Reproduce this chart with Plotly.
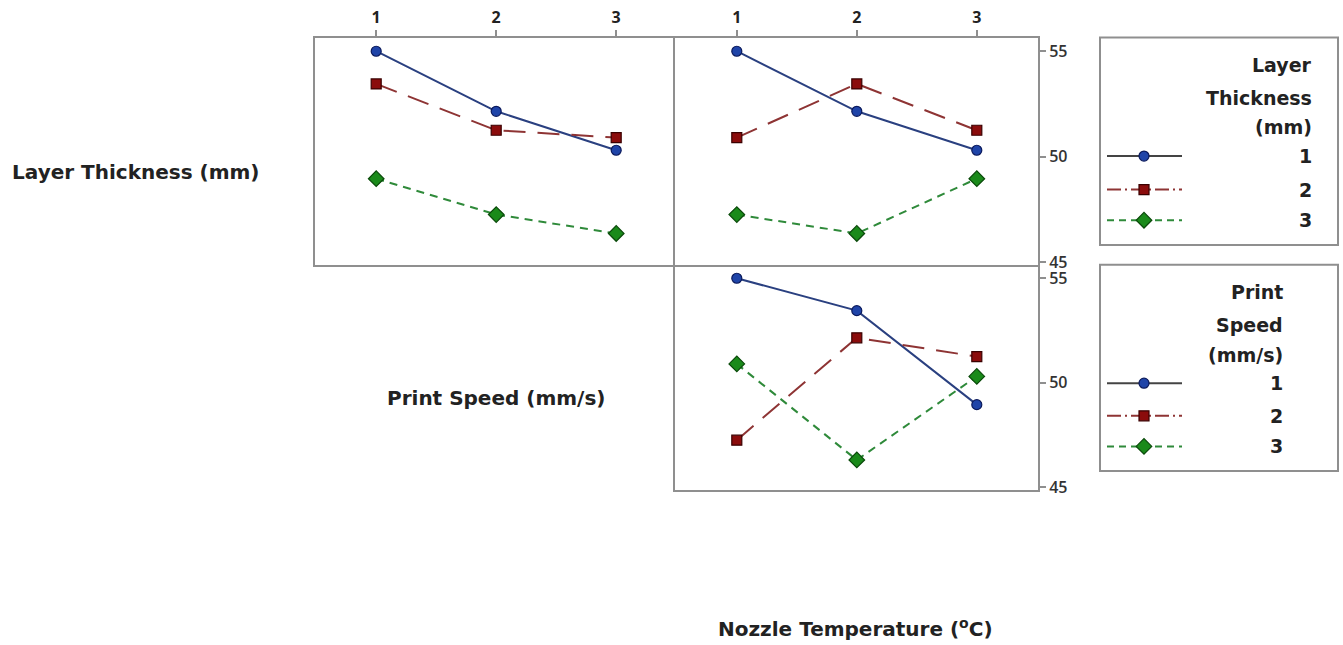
import plotly.graph_objects as go

# ---------------- data ----------------
levels = [1, 2, 3]
level_names = ["1", "2", "3"]

# top-left panel: Layer Thickness lines (x = Print Speed level)
tl_lt1 = [55.0, 52.15, 50.3]
tl_lt2 = [53.45, 51.25, 50.9]
tl_lt3 = [48.95, 47.25, 46.35]

# top-right panel: Layer Thickness lines (x = Nozzle Temperature level)
tr_lt1 = [55.0, 52.15, 50.3]
tr_lt2 = [50.9, 53.45, 51.25]
tr_lt3 = [47.25, 46.35, 48.95]

# bottom panel: Print Speed lines (x = Nozzle Temperature level)
b_ps1 = [55.0, 53.45, 48.95]
b_ps2 = [47.25, 52.15, 51.25]
b_ps3 = [50.9, 46.3, 50.3]

y_ticks = [45, 50, 55]

row_label_1 = "Layer Thickness (mm)"
row_label_2 = "Print Speed (mm/s)"
x_title = "Nozzle Temperature (<sup>o</sup>C)"
legend1_title = ["Layer", "Thickness", "(mm)"]
legend2_title = ["Print", "Speed", "(mm/s)"]

# ---------------- styles ----------------
styles = [
    dict(line=dict(color="#2a4080", width=2, dash="solid"),
         marker=dict(symbol="circle", size=10, color="#1f44a8",
                     line=dict(color="#0b1a5c", width=1.2))),
    dict(line=dict(color="#8e3434", width=2, dash="22px,12px"),
         marker=dict(symbol="square", size=10, color="#8b0c0c",
                     line=dict(color="#3a0000", width=1.2))),
    dict(line=dict(color="#2f8a3a", width=2, dash="8px,6px"),
         marker=dict(symbol="diamond", size=12, color="#1a8a1a",
                     line=dict(color="#0a4a0a", width=1.2))),
]
legend_line_colors = ["#444444", "#8e3434", "#2f8a3a"]
legend_dashes = ["solid", "14px,4px,2px,4px", "7px,5px"]
FONT = "Open Sans"
WIDE = "DejaVu Sans"
frame_col = "#8f8f8f"

fig = go.Figure()

panels = [
    ("x", "y", [tl_lt1, tl_lt2, tl_lt3]),
    ("x2", "y2", [tr_lt1, tr_lt2, tr_lt3]),
    ("x3", "y3", [b_ps1, b_ps2, b_ps3]),
]
for xa, ya, series in panels:
    for i, vals in enumerate(series):
        fig.add_trace(go.Scatter(
            x=levels, y=vals, mode="lines+markers", xaxis=xa, yaxis=ya,
            line=styles[i]["line"], marker=styles[i]["marker"],
            showlegend=False, hoverinfo="skip"))

W, H = 1343, 645
xl, xm, xr = 315 / W, 675 / W, 1038 / W
yt_top, yt_bot = 1 - 38 / H, 1 - 268 / H
yb_bot = 1 - 496 / H
yr = [44.87, 55.65]

line_only = dict(showline=True, linecolor=frame_col, linewidth=2,
                 showgrid=False, zeroline=False)
common_line = dict(mirror=True, **line_only)
top_x = dict(side="top", tickvals=levels, ticktext=level_names, ticks="outside",
             ticklen=6, tickcolor=frame_col, tickwidth=1.5,
             tickfont=dict(family=FONT, size=16, color="#222", weight="bold"))
right_y = dict(side="right", tickvals=y_ticks, ticks="outside", ticklen=6,
               tickcolor=frame_col, tickwidth=1.5, range=yr,
               tickfont=dict(family=FONT, size=16, color="#333", weight=600))

fig.update_layout(
    width=W, height=H, margin=dict(l=0, r=0, t=0, b=0),
    paper_bgcolor="white", plot_bgcolor="rgba(0,0,0,0)",
    xaxis=dict(domain=[xl, xm], anchor="y", range=[0.49, 3.49], **top_x, **common_line),
    yaxis=dict(domain=[yt_bot, yt_top], anchor="x", range=yr, showticklabels=False,
               ticks="", mirror=False, **line_only),
    xaxis2=dict(domain=[xm, xr], anchor="y2", range=[0.485, 3.51], **top_x, **common_line),
    yaxis2=dict(domain=[yt_bot, yt_top], anchor="x2", **right_y, **common_line),
    xaxis3=dict(domain=[xm, xr], anchor="y3", range=[0.485, 3.51], showticklabels=False,
                ticks="", mirror=False, **line_only),
    yaxis3=dict(domain=[yb_bot, yt_bot], anchor="x3", **right_y, **common_line),
    xaxis4=dict(domain=[0, 1], anchor="y4", range=[0, W], visible=False),
    yaxis4=dict(domain=[0, 1], anchor="x4", range=[H, 0], visible=False),
)

# ---------------- legends (boxes, swatches, text) ----------------
legend_font = dict(family=WIDE, size=19, color="#222", weight="bold")


def add_legend(box, title_lines, title_y, item_y, text_x):
    x0, y0, x1, y1 = box
    fig.add_shape(type="rect", xref="paper", yref="paper",
                  x0=x0 / W, x1=x1 / W, y0=1 - y1 / H, y1=1 - y0 / H,
                  line=dict(color=frame_col, width=2), fillcolor="rgba(0,0,0,0)")
    for t, ty in zip(title_lines, title_y):
        fig.add_annotation(x=text_x / W, y=1 - ty / H, xref="paper", yref="paper",
                           text=t, showarrow=False, xanchor="right", yanchor="middle",
                           font=legend_font)
    for i, iy in enumerate(item_y):
        st = styles[i]
        fig.add_trace(go.Scatter(x=[1107, 1182], y=[iy, iy], mode="lines",
                                 xaxis="x4", yaxis="y4",
                                 line=dict(color=legend_line_colors[i], width=2,
                                           dash=legend_dashes[i]),
                                 showlegend=False, hoverinfo="skip"))
        fig.add_trace(go.Scatter(x=[1144], y=[iy], mode="markers",
                                 xaxis="x4", yaxis="y4", marker=st["marker"],
                                 showlegend=False, hoverinfo="skip"))
        fig.add_annotation(x=text_x / W, y=1 - iy / H, xref="paper", yref="paper",
                           text=level_names[i], showarrow=False, xanchor="right",
                           yanchor="middle", font=legend_font)


add_legend((1100, 38, 1338, 248), legend1_title, [66, 99, 129], [158, 192, 223], 1314)
add_legend((1100, 268, 1338, 477), legend2_title, [296, 329, 359], [388, 421, 452], 1285)

# ---------------- row / axis labels ----------------
label_font = dict(family=WIDE, size=20, color="#222", weight="bold")
fig.add_annotation(x=135 / W, y=1 - 174 / H, xref="paper", yref="paper",
                   text=row_label_1, showarrow=False, font=label_font,
                   xanchor="center", yanchor="middle")
fig.add_annotation(x=496 / W, y=1 - 403 / H, xref="paper", yref="paper",
                   text=row_label_2, showarrow=False, font=label_font,
                   xanchor="center", yanchor="middle")
fig.add_annotation(x=855 / W, y=1 - 636 / H, xref="paper", yref="paper",
                   text=x_title, showarrow=False, font=label_font,
                   xanchor="center", yanchor="middle")

fig.write_html("out.html")
